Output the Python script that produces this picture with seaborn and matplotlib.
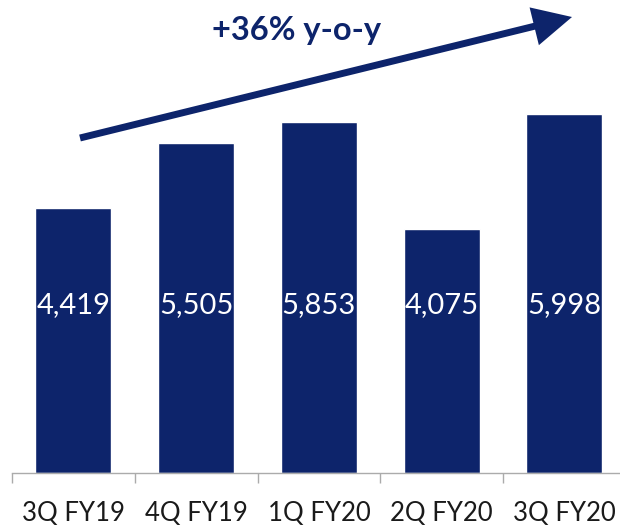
import matplotlib
matplotlib.use("Agg")
import matplotlib.pyplot as plt
from matplotlib.patches import FancyArrowPatch
import seaborn as sns
import pandas as pd

quarters = ["3Q FY19", "4Q FY19", "1Q FY20", "2Q FY20", "3Q FY20"]
values = [4419, 5505, 5853, 4075, 5998]
growth_label = "+36% y-o-y"

NAVY = "#0D246B"
AXIS_GREY = "#ABABAB"

sns.set_theme(style="white")
plt.rcParams["font.family"] = ["Lato", "DejaVu Sans"]

W, H = 620, 529
fig = plt.figure(figsize=(W / 100, H / 100), dpi=100)
ax = fig.add_axes([12 / W, (H - 473) / H, 613.75 / W, 473 / H])

df = pd.DataFrame({"quarter": quarters, "value": values})
sns.barplot(data=df, x="quarter", y="value", color=NAVY, width=0.62,
            saturation=1, ax=ax)

ax.set_xlim(-0.5, len(quarters) - 0.5)
ax.set_ylim(0, 473 / 0.0599)
ax.set_xlabel("")
ax.set_ylabel("")
ax.set_yticks([])
for side in ("left", "right", "top"):
    ax.spines[side].set_visible(False)
ax.spines["bottom"].set_color(AXIS_GREY)
ax.spines["bottom"].set_linewidth(1.0)

# category separators as minor ticks on the baseline
ax.set_xticks([i - 0.5 for i in range(len(quarters) + 1)], minor=True)
ax.tick_params(axis="x", which="minor", length=7.5, width=1.0,
               color=AXIS_GREY, bottom=True)
ax.tick_params(axis="x", which="major", length=0, pad=20,
               labelsize=18.5, labelcolor="#1a1a1a")

# value labels inside the bars
label_y = (473 - 305) / 0.0599
for i, v in enumerate(values):
    ax.text(i, label_y, f"{v:,}", ha="center", va="center",
            color="white", fontsize=21)

# growth arrow and caption
arrow = FancyArrowPatch(
    (80 / W, 1 - 138 / H), (572 / W, 1 - 17 / H),
    transform=fig.transFigure,
    arrowstyle="simple,head_length=28,head_width=28,tail_width=5",
    mutation_scale=1, color=NAVY, shrinkA=0, shrinkB=0, lw=0,
)
fig.patches.append(arrow)
fig.text(297 / W, 1 - 40 / H, growth_label, ha="center", va="baseline",
         fontsize=23.5, fontweight="bold", color=NAVY)

fig.savefig("out.png", dpi=100)
